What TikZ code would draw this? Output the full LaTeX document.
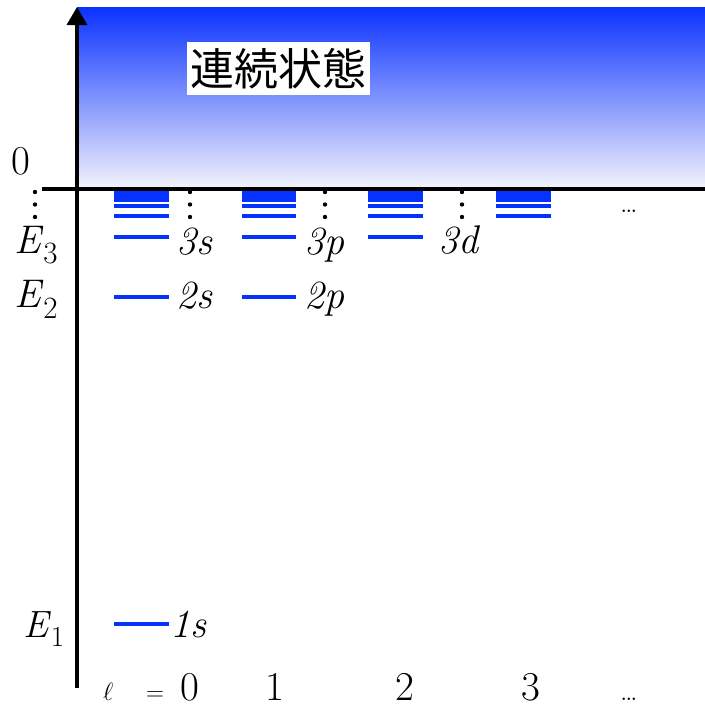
\documentclass[tikz,border=0pt]{standalone}
\usepackage{fontspec}
\newfontfamily\jpfont{Noto Sans CJK JP}
\usetikzlibrary{arrows.meta}
\definecolor{lvl}{RGB}{5,50,255}
\definecolor{gtop}{RGB}{10,50,255}
\definecolor{gbot}{RGB}{242,242,252}
\begin{document}
\begin{tikzpicture}[x=1pt,y=-1pt,
  lvl/.style={draw=lvl, line width=4pt},
  lab/.style={inner sep=0pt, anchor=base west, font=\fontsize{40}{40}\selectfont\itshape},
  elab/.style={inner sep=0pt, anchor=base west, font=\fontsize{40}{40}\selectfont},
  axlab/.style={inner sep=0pt, anchor=base, text depth=0pt, font=\fontsize{41}{41}\selectfont},
  dotv/.style={fill=black}
]
\useasboundingbox (0,0) rectangle (705,704);
% continuum
\shade[top color=gtop,bottom color=gbot] (77,7) rectangle (705,187);
\node[fill=white, inner sep=0pt, minimum width=183, minimum height=53,
      font=\jpfont\fontsize{44}{44}\selectfont] (cont) at (278.5,68.5) {連続状態};
% axes
\coordinate (hl) at (42,189);
\coordinate (hr) at (705,189);
\coordinate (vb) at (77,688);
\coordinate (vt) at (77,7);
\draw[line width=4pt] (hl) -- (hr);
\draw[line width=3.5pt, -{Triangle[width=20pt,length=18pt]}] (vb) -- (vt);
% levels
\foreach \xa/\xb in {114/169,242/296,368/423,496/551}{
  \foreach \y in {216,206,200,195.5,193}{
    \draw[lvl] (\xa,\y) -- (\xb,\y);
  }
}
\foreach \xa/\xb in {114/169,242/296,368/423}{
  \draw[lvl] (\xa,236.5) -- (\xb,236.5);
}
\foreach \xa/\xb in {114/169,242/296}{
  \draw[lvl] (\xa,297) -- (\xb,297);
}
\draw[lvl] (114,624) -- (169,624);
% vertical dots
\foreach \x in {35,190,325,462}{
  \foreach \y in {192,204.5,217}{
    \fill[dotv] (\x,\y) circle (2.2);
  }
}
% level labels
\node[lab] (l3s) at (176,254) {3s};
\node[lab] (l2s) at (176,308) {2s};
\node[lab] (l1s) at (170,637) {1s};
\node[lab] (l3p) at (304,254) {3p};
\node[lab] (l2p) at (304,308) {2p};
\node[lab] (l3d) at (438,253) {3d};
\node[inner sep=0pt, anchor=base, font=\fontsize{30}{30}\selectfont] (tdots) at (629,212) {\ldots};
% energy labels
\node[elab] (e3) at (14,253) {\textit{E}\raisebox{-10pt}{\fontsize{31}{31}\selectfont 3}};
\node[elab] (e2) at (14,307) {\textit{E}\raisebox{-11pt}{\fontsize{31}{31}\selectfont 2}};
\node[elab, font=\fontsize{38}{38}\selectfont] (e1) at (23,637) {\textit{E}\raisebox{-9pt}{\fontsize{29}{29}\selectfont 1}};
\node[inner sep=0pt, anchor=base west, font=\fontsize{41}{41}\selectfont] (zero) at (11,174) {0};
% l labels
\node[axlab, anchor=base west] (ell) at (103,700) {$\ell$};
\node[axlab] (eq) at (155,700) {$=$};
\node[axlab] (l0) at (190,700) {0};
\node[axlab] (l1) at (275,700) {1};
\node[axlab] (l2) at (405,700) {2};
\node[axlab] (l3) at (531,700) {3};
\node[axlab, font=\fontsize{30}{30}\selectfont] (ldots) at (629,700) {\ldots};
\end{tikzpicture}
\end{document}
